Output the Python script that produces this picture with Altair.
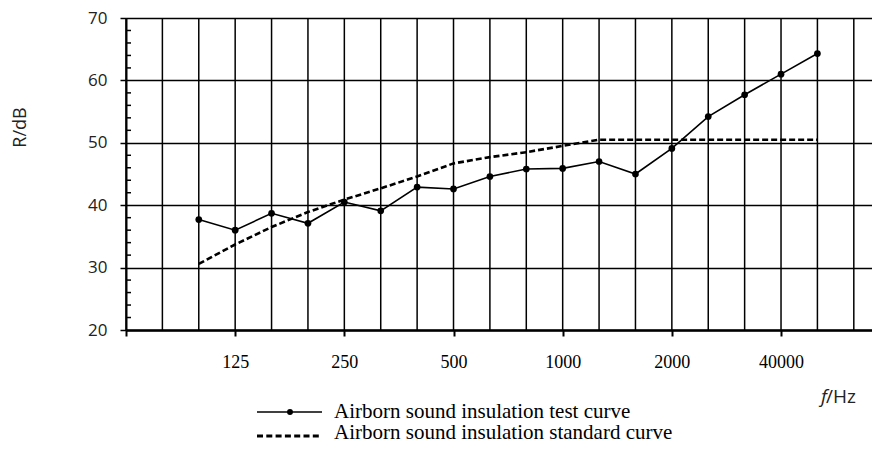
import altair as alt
import pandas as pd

# ---- data -----------------------------------------------------------------
band_freqs = ["63", "80", "100", "125", "160", "200", "250", "315", "400", "500",
              "630", "800", "1000", "1250", "1600", "2000", "2500", "3150",
              "4000", "5000", "6300"]
band_index = list(range(len(band_freqs)))          # vertical gridlines 0..20

test_idx = list(range(2, 20))                        # 100 Hz .. 5000 Hz
test_values = [37.7, 36.0, 38.7, 37.1, 40.5, 39.1, 42.9, 42.6, 44.6, 45.8,
               45.9, 47.0, 45.0, 49.1, 54.2, 57.7, 61.0, 64.3]
standard_values = [30.6, 33.7, 36.5, 38.9, 40.9, 42.7, 44.6, 46.7, 47.7, 48.5,
                   49.5, 50.5, 50.5, 50.5, 50.5, 50.5, 50.5, 50.5]

x_tick_idx = [0, 3, 6, 9, 12, 15, 18]
x_tick_text = ["", "125", "250", "500", "1000", "2000", "40000"]
y_major = [20, 30, 40, 50, 60, 70]
y_minor = [v for v in range(22, 70, 2) if v % 10 != 0]

series_names = ["Airborn sound insulation test curve",
                "Airborn sound insulation standard curve"]

# ---- tables ---------------------------------------------------------------
df_test = pd.DataFrame({"idx": test_idx, "R": test_values})
df_std = pd.DataFrame({"idx": test_idx, "R": standard_values})
df_grid = pd.DataFrame({"idx": band_index, "R": [20] * len(band_index)})
df_minor = pd.DataFrame({"v": y_minor})
df_one = pd.DataFrame({"k": [0]})

label_expr = "''"
for i, t in zip(x_tick_idx, x_tick_text):
    label_expr = f"datum.value == {i} ? '{t}' : ({label_expr})"

W, H = 746, 312
xs = alt.Scale(domain=[0, 20.5], nice=False, zero=False)
ys = alt.Scale(domain=[20, 70], nice=False, zero=False)

x_axis = alt.Axis(
    values=x_tick_idx, labelExpr=label_expr, grid=False,
    domain=True, domainColor="black", domainWidth=2.5,
    ticks=True, tickColor="black", tickWidth=2, tickSize=6,
    labelFont="Liberation Serif", labelFontSize=18, labelColor="black",
    labelPadding=17, title=None,
)
y_axis = alt.Axis(
    values=y_major, grid=True, gridColor="black", gridWidth=1.5,
    gridOpacity=1, domain=True, domainColor="black", domainWidth=2,
    ticks=True, tickColor="black", tickWidth=1.5, tickSize=6,
    labelFont="Open Sans", labelFontSize=17, labelColor="#222",
    labelPadding=13, title="R/dB", titleFont="Open Sans",
    titleFontSize=18, titleFontWeight="normal", titleColor="#222",
    titleX=-106, titleY=109, titleAngle=270,
    titleAlign="center", titleBaseline="middle",
)

# base layer carrying the x axis + vertical gridlines
vgrid = alt.Chart(df_grid).mark_rule(color="black", strokeWidth=1.5).encode(
    x=alt.X("idx:Q", scale=xs, axis=x_axis),
    y=alt.value(0), y2=alt.value(H),
)
axis_holder = alt.Chart(df_grid).mark_point(opacity=0).encode(
    x=alt.X("idx:Q", scale=xs),
    y=alt.Y("R:Q", scale=ys, axis=y_axis),
)

# minor inward ticks on the y axis
minor = alt.Chart(df_minor).mark_rule(color="black", strokeWidth=1.5).encode(
    x=alt.value(0), x2=alt.value(5),
    y=alt.Y("v:Q", scale=ys),
)

std_line = alt.Chart(df_std).mark_line(
    color="black", strokeWidth=2.6, strokeDash=[6, 3]
).encode(
    x=alt.X("idx:Q", scale=xs),
    y=alt.Y("R:Q", scale=ys),
)

test_line = alt.Chart(df_test).mark_line(
    color="black", strokeWidth=1.6,
    point=alt.OverlayMarkDef(filled=True, size=45, color="black", opacity=1),
).encode(
    x=alt.X("idx:Q", scale=xs),
    y=alt.Y("R:Q", scale=ys),
)

# axis unit label  f/Hz
unit_f = alt.Chart(df_one).mark_text(
    text="f", font="Open Sans", fontSize=19, fontStyle="italic",
    align="right", baseline="middle", color="#222"
).encode(x=alt.value(701), y=alt.value(379))
unit_hz = alt.Chart(df_one).mark_text(
    text="/Hz", font="Open Sans", fontSize=19,
    align="left", baseline="middle", color="#222"
).encode(x=alt.value(700), y=alt.value(379))

# manual legend
line1_y, line2_y = 394, 418
text1_y, text2_y = 400, 421      # text baselines
leg_rule1 = alt.Chart(df_one).mark_rule(color="black", strokeWidth=1.6).encode(
    x=alt.value(131), x2=alt.value(196), y=alt.value(line1_y))
leg_pt1 = alt.Chart(df_one).mark_point(
    filled=True, size=35, color="black", opacity=1).encode(
    x=alt.value(164), y=alt.value(line1_y))
leg_rule2 = alt.Chart(df_one).mark_rule(
    color="black", strokeWidth=3, strokeDash=[6, 3.3]).encode(
    x=alt.value(131), x2=alt.value(196), y=alt.value(line2_y))
leg_t1 = alt.Chart(df_one).mark_text(
    text=series_names[0], font="Liberation Serif", fontSize=21,
    align="left", baseline="alphabetic", color="black").encode(
    x=alt.value(208), y=alt.value(text1_y))
leg_t2 = alt.Chart(df_one).mark_text(
    text=series_names[1], font="Liberation Serif", fontSize=21,
    align="left", baseline="alphabetic", color="black").encode(
    x=alt.value(208), y=alt.value(text2_y))

chart = alt.layer(
    vgrid, axis_holder, minor, std_line, test_line, unit_f, unit_hz,
    leg_rule1, leg_pt1, leg_rule2, leg_t1, leg_t2,
).properties(
    width=W, height=H,
    autosize=alt.AutoSizeParams(type="none"),
    padding={"left": 118, "top": 10, "right": 0, "bottom": 114},
    background="white",
).configure_view(stroke=None)

chart.save("out.html", embed_options={"renderer": "svg", "actions": False})
